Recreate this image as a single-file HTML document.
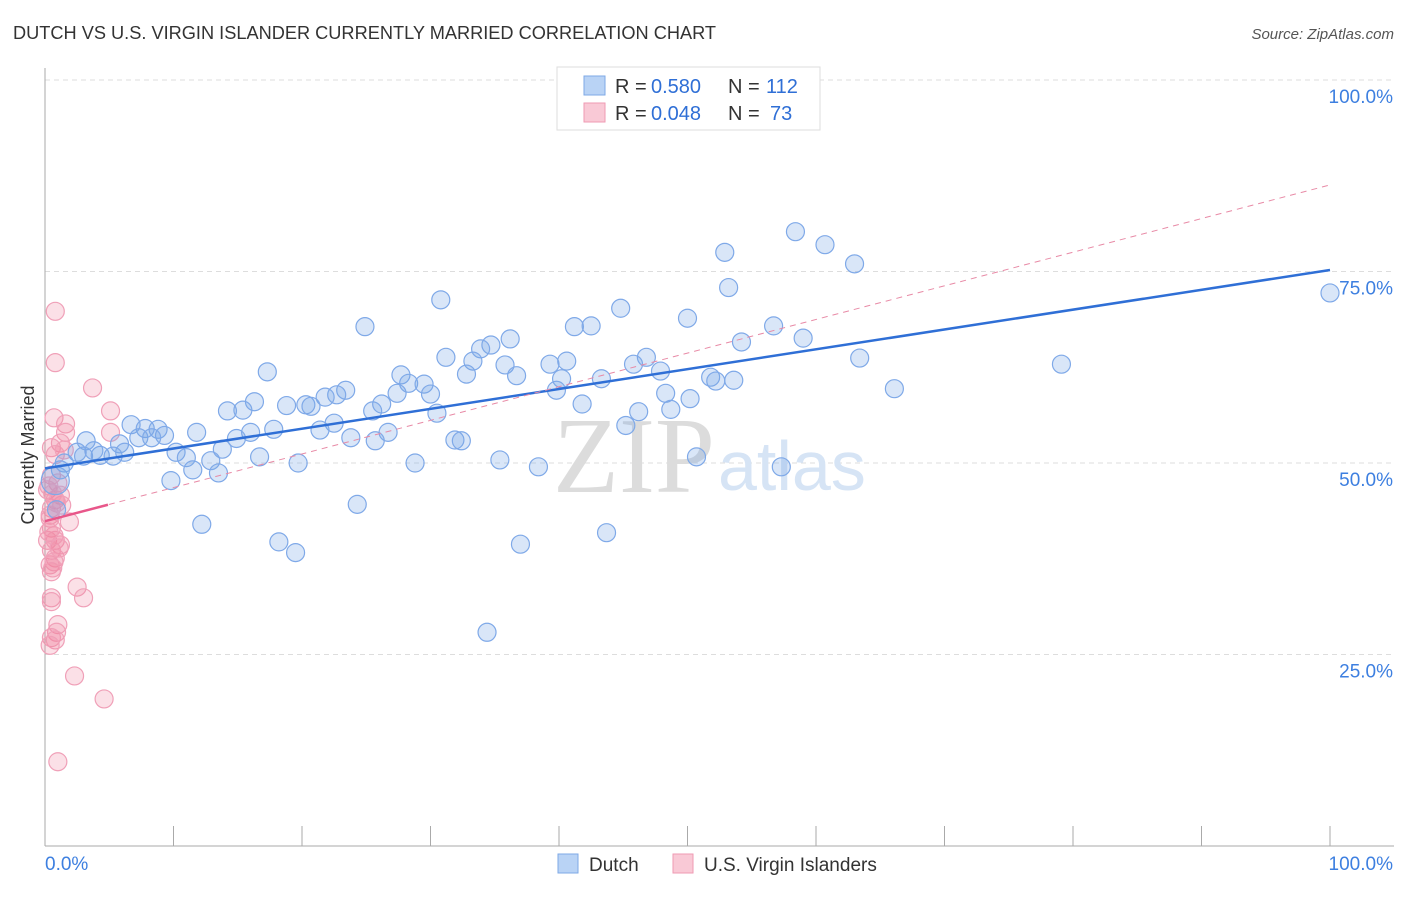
<!DOCTYPE html>
<html><head><meta charset="utf-8"><style>
body{margin:0;background:#fff;font-family:"Liberation Sans",sans-serif;}
</style></head><body>
<svg id="chart" width="1406" height="892" xmlns="http://www.w3.org/2000/svg">
<text x="13" y="39" font-size="18.2" fill="#333">DUTCH VS U.S. VIRGIN ISLANDER CURRENTLY MARRIED CORRELATION CHART</text>
<text x="1394" y="39" font-size="15" fill="#555" font-style="italic" text-anchor="end">Source: ZipAtlas.com</text>
<text x="34" y="455" font-size="18" fill="#333" text-anchor="middle" transform="rotate(-90 34 455)">Currently Married</text>
<g id="grid"></g>
<text x="553" y="492" font-size="108" fill="#dcdcdc" font-family="Liberation Serif,serif">ZIP</text>
<text x="718" y="490" font-size="70" fill="#d6e4f5">atlas</text>
<g id="marks"></g>
<g>
<rect x="557" y="67" width="263" height="63" fill="#fff" stroke="#ddd"/>
<rect x="584" y="76" width="21" height="19" fill="#b9d3f5" stroke="#7ea8e6"/>
<rect x="584" y="103" width="21" height="19" fill="#f9c9d6" stroke="#ef9ab3"/>
<text x="615" y="93" font-size="20" fill="#333">R =</text>
<text x="651" y="93" font-size="20" fill="#2f6fd6">0.580</text>
<text x="728" y="93" font-size="20" fill="#333">N =</text>
<text x="766" y="93" font-size="20" fill="#2f6fd6">112</text>
<text x="615" y="120" font-size="20" fill="#333">R =</text>
<text x="651" y="120" font-size="20" fill="#2f6fd6">0.048</text>
<text x="728" y="120" font-size="20" fill="#333">N =</text>
<text x="770" y="120" font-size="20" fill="#2f6fd6">73</text>
</g>
<g>
<rect x="558" y="854" width="20" height="19" fill="#b9d3f5" stroke="#7ea8e6"/>
<text x="589" y="871" font-size="19" fill="#333">Dutch</text>
<rect x="673" y="854" width="20" height="19" fill="#f9c9d6" stroke="#ef9ab3"/>
<text x="704" y="871" font-size="19" fill="#333">U.S. Virgin Islanders</text>
</g>
</svg>
<script>
const yTicks=[25,50,75,100];
const yTickLabels=["25.0%","50.0%","75.0%","100.0%"];
const xTicks=[0,10,20,30,40,50,60,70,80,90,100];
const dutchX=[100,58.4,60.7,52.9,63.0,53.2,30.8,44.8,24.9,50.0,41.2,42.5,56.7,36.2,54.2,59.0,34.7,33.9,31.2,33.3,46.8,63.4,79.1,39.3,40.6,45.8,35.8,17.3,32.8,47.9,27.7,36.7,51.8,52.2,53.6,43.3,28.3,29.5,40.2,27.4,23.4,30.0,39.8,48.3,66.1,22.7,21.8,16.3,18.8,20.3,20.7,26.2,41.8,50.2,14.2,15.4,25.5,30.5,46.2,48.7,22.5,6.7,7.8,8.8,45.2,21.4,16.0,17.8,11.8,7.3,9.3,14.9,8.3,23.8,26.7,25.7,3.2,5.8,31.9,32.4,13.8,10.2,2.5,3.0,4.3,3.8,5.3,6.2,11.0,16.7,12.9,19.7,28.8,35.4,38.4,50.7,57.3,1.5,1.2,11.5,13.5,9.8,0.8,24.3,12.2,0.9,37.0,43.7,18.2,19.5,34.4];
const dutchY=[72.2,80.2,78.5,77.5,76.0,72.9,71.3,70.2,67.8,68.9,67.8,67.9,67.9,66.2,65.8,66.3,65.4,64.9,63.8,63.3,63.8,63.7,62.9,62.9,63.3,62.9,62.8,61.9,61.6,62.0,61.5,61.4,61.2,60.7,60.8,61.0,60.4,60.3,61.0,59.1,59.5,59.0,59.5,59.1,59.7,58.9,58.6,58.0,57.5,57.6,57.4,57.7,57.7,58.4,56.8,56.9,56.8,56.5,56.7,57.0,55.2,55.0,54.5,54.4,54.9,54.3,54.0,54.4,54.0,53.3,53.6,53.2,53.3,53.3,54.0,52.9,52.9,52.5,53.0,52.9,51.8,51.4,51.4,50.9,51.0,51.6,50.9,51.4,50.7,50.8,50.3,50.0,50.0,50.4,49.5,50.8,49.5,50.0,49.1,49.1,48.7,47.7,47.7,44.6,42.0,43.9,39.4,40.9,39.7,38.3,27.9];
const usviX=[0.8,0.8,3.7,0.7,1.6,5.1,1.6,5.1,1.2,0.5,0.8,1.5,0.5,1.0,0.2,1.2,0.8,0.5,1.3,1.9,0.4,0.5,0.2,0.8,1.2,0.5,0.8,0.4,0.7,0.5,2.5,3.0,0.5,0.5,1.0,0.9,0.5,0.8,0.4,2.3,4.6,1.0,0.3,0.6,0.9,0.4,0.7,1.1,0.3,0.6];
const usviY=[69.8,63.1,59.8,55.9,55.1,56.8,54.0,54.0,52.6,52.0,51.1,51.7,48.4,47.4,46.5,45.8,45.2,44.1,44.5,42.3,43.2,41.5,39.9,39.9,39.3,38.6,37.6,36.7,37.1,35.8,33.8,32.4,32.4,31.9,28.9,27.9,27.2,26.9,26.2,22.2,19.2,11.0,47.0,46.0,44.8,42.8,40.5,38.9,41.0,36.3];
const dutchTrend=[49.3,75.2];
const usviTrend=[42.4,86.3];
const X=v=>45+v*12.85, Y=v=>846-v*7.66;
const NS="http://www.w3.org/2000/svg";
function mk(t,a,p){const e=document.createElementNS(NS,t);for(const k in a)e.setAttribute(k,a[k]);p.appendChild(e);return e;}
const grid=document.getElementById('grid'), marks=document.getElementById('marks');
yTicks.forEach((t,i)=>{
 const l=mk('line',{x1:45,x2:1394,y1:Y(t),y2:Y(t),stroke:'#ddd','stroke-dasharray':'5,4'},grid);
 
 
 const tx=mk('text',{x:1393,y:Y(t)+23,'font-size':19,fill:'#3d7fe0','text-anchor':'end'},grid);
 tx.textContent=yTickLabels[i];
 
 
});
const ax=mk('line',{x1:45,x2:45,y1:68,y2:846,stroke:'#aaa'},grid);


const bx=mk('line',{x1:45,x2:1394,y1:846,y2:846,stroke:'#aaa'},grid);


xTicks.forEach(t=>{
 const l=mk('line',{x1:X(t),x2:X(t),y1:826,y2:846,stroke:'#aaa'},grid);
 
 
});
[[0,'0.0%','start',45],[100,'100.0%','end',1393]].forEach(d=>{
 const tx=mk('text',{x:d[3],y:870,'font-size':19,fill:'#3d7fe0','text-anchor':d[2]},grid);
 tx.textContent=d[1];
 
 
});
usviX.forEach((v,i)=>{
 const c=mk('circle',{cx:X(v),cy:Y(usviY[i]),r:9,fill:'rgba(240,130,160,0.25)',stroke:'#f0a0b8','stroke-width':1.2},marks);
 
 
});
dutchX.forEach((v,i)=>{
 const c=mk('circle',{cx:X(v),cy:Y(dutchY[i]),r:(i==102?14:9),fill:'rgba(120,165,230,0.28)',stroke:'#7fa9e8','stroke-width':1.2},marks);
 
 
});
const dl=mk('line',{x1:X(0),y1:Y(dutchTrend[0]),x2:X(100),y2:Y(dutchTrend[1]),stroke:'#2f6fd6','stroke-width':2.5},marks);


const ud=mk('line',{x1:X(0),y1:Y(usviTrend[0]),x2:X(100),y2:Y(usviTrend[1]),stroke:'#e88aa6','stroke-width':1,'stroke-dasharray':'6,5'},marks);


const ul=mk('line',{x1:X(0),y1:Y(usviTrend[0]),x2:X(4.9),y2:Y(usviTrend[0]+(usviTrend[1]-usviTrend[0])*0.049),stroke:'#e8578a','stroke-width':2.5},marks);


</script>
</body></html>
